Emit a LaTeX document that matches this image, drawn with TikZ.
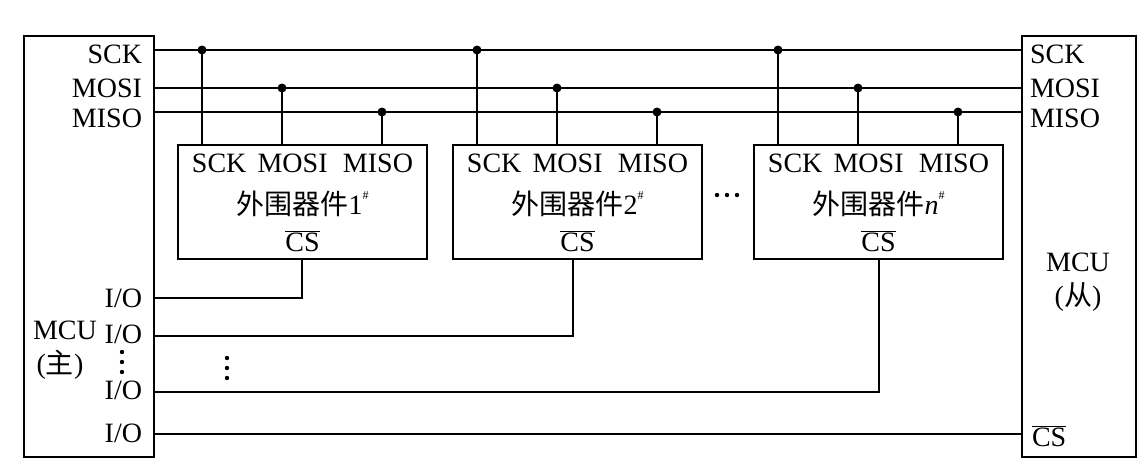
\documentclass[tikz,border=0pt]{standalone}
\usepackage{fontspec}
\setmainfont{Liberation Serif}
\newfontfamily\cjk{Noto Sans CJK SC}
\newcommand{\csbar}{$\overline{\mbox{CS}}$}
\newcommand{\shp}{\raisebox{0.55em}{\fontsize{12}{12}\selectfont\#}}
\begin{document}
\begin{tikzpicture}[x=1pt,y=-1pt,line width=2pt,
  lbl/.style={inner sep=0pt,font=\fontsize{28}{29}\selectfont},
  dot/.style={circle,fill,inner sep=0pt,minimum size=9pt},
  dev/.style={draw,minimum width=249pt,minimum height=114pt,anchor=north west,inner sep=0pt}]
\useasboundingbox (0,0) rectangle (1148,474);
\node[draw,anchor=north west,minimum width=130pt,minimum height=421pt,inner sep=0pt] (M) at (23,35) {};
\node[draw,anchor=north west,minimum width=114pt,minimum height=421pt,inner sep=0pt] (S) at (1021,35) {};
% left labels
\node[lbl,anchor=east] (lsck) at (143,54) {SCK};
\node[lbl,anchor=east] (lmosi) at (143,88) {MOSI};
\node[lbl,anchor=east] (lmiso) at (143,118) {MISO};
\node[lbl,anchor=east] at (143,298) {I/O};
\node[lbl,anchor=east] at (143,334) {I/O};
\node[lbl,anchor=east] at (143,390) {I/O};
\node[lbl,anchor=east] at (143,433) {I/O};
\node[lbl] at (65,330) {MCU};
\node[lbl] at (60,365) {({\cjk 主})};
\foreach \y in {352,362,372}{\fill (122,\y) circle (2.2pt);}
\foreach \y in {358,368,378}{\fill (227,\y) circle (2.2pt);}
\foreach \x in {717,727,737}{\fill (\x,195) circle (2.2pt);}
% right labels
\node[lbl,anchor=west] at (1029,54) {SCK};
\node[lbl,anchor=west] at (1029,88) {MOSI};
\node[lbl,anchor=west] at (1029,118) {MISO};
\node[lbl] at (1078,262) {MCU};
\node[lbl] at (1078,297) {({\cjk 从})};
\node[lbl,anchor=west] at (1031,436) {\csbar};
% buses
\coordinate (a1) at (153,50); \coordinate (b1) at (1021,50);
\coordinate (a2) at (153,88); \coordinate (b2) at (1021,88);
\coordinate (a3) at (153,112); \coordinate (b3) at (1021,112);
\draw (a1)--(b1); \draw (a2)--(b2); \draw (a3)--(b3);
% devices
\foreach \n/\x/\t in {d1/177/1,d2/452/2,dn/753/\textit{n}}{
  \node[dev] (\n) at (\x,144) {};
  \node[lbl] at ([yshift=-19pt]\n.north) {SCK\hspace{0.4em}MOSI\hspace{0.55em}MISO};
  \node[lbl] at ([yshift=-60pt]\n.north) {{\cjk 外围器件}\t\shp};
  \node[lbl] (\n cs) at ([yshift=-97pt]\n.north) {\csbar};
  \draw (\x+25,50) node[dot]{} -- (\x+25,144);
  \draw (\x+105,88) node[dot]{} -- (\x+105,144);
  \draw (\x+205,112) node[dot]{} -- (\x+205,144);
}
\draw (302,258) |- (153,298);
\draw (573,258) |- (153,336);
\draw (879,258) |- (153,392);
\draw (153,434) -- (1021,434);
\end{tikzpicture}
\end{document}
